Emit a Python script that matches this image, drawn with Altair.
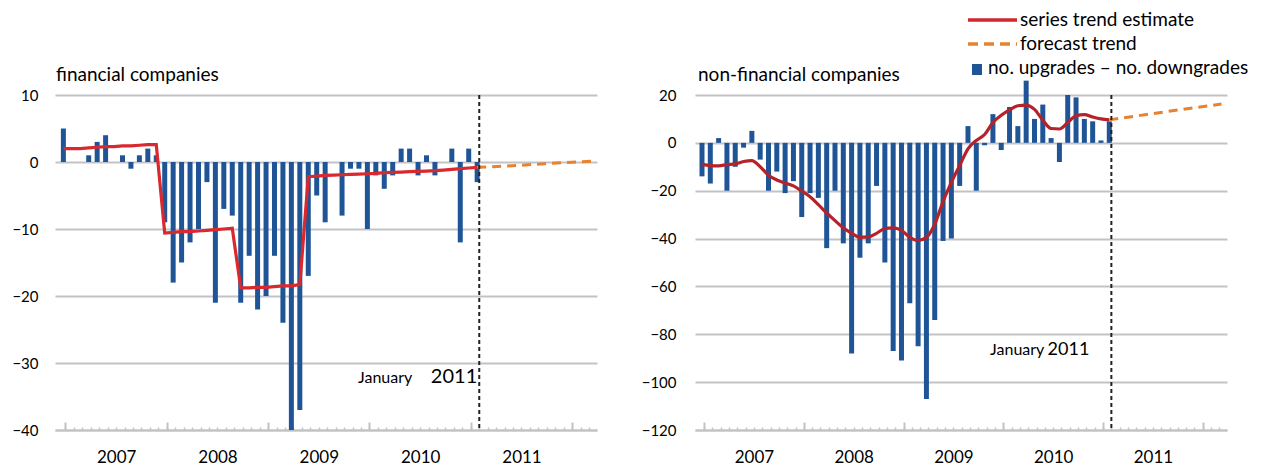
import json
import altair as alt
import pandas as pd

# ---------------- data (monthly, index 0 = first month shown) ----------------
years = ["2007", "2008", "2009", "2010", "2011"]

fin_bars = [5, 0, 0, 1, 3, 4, 0, 1, -1, 1, 2, 1, -9, -18, -15, -12, -10, -3, -21, -7,
            -8, -21, -14, -22, -20, -14, -24, -40, -37, -17, -5, -9, 0, -8, -1, -1, -10, -2, -4, -2,
            2, 2, -2, 1, -2, 0, 2, -12, 2, -3]
fin_trend = [2.0, 2.0, 2.0, 2.1, 2.2, 2.3, 2.3, 2.4, 2.4, 2.5, 2.6, 2.6,
             -10.6, -10.5, -10.4, -10.4, -10.3, -10.2, -10.1, -10.0, -9.9,
             -18.8, -18.8, -18.7, -18.7, -18.6, -18.5, -18.5, -18.3,
             -2.2, -2.1, -2.0, -1.95, -1.9, -1.85, -1.8, -1.75, -1.7, -1.6, -1.55,
             -1.5, -1.45, -1.4, -1.35, -1.3, -1.2, -1.1, -1.0, -0.9, -0.8]
fin_fc_m = [49, 54, 57, 59, 62.5]
fin_fc_v = [-0.8, -0.5, -0.25, -0.1, 0.1]

nf_bars = [-14, -17, 2, -20, -10, -2, 5, -7, -20, -12, -21, -16, -31, -21, -23, -44, -20, -42, -88, -48,
           -42, -18, -50, -87, -91, -67, -85, -107, -74, -41, -40, -18, 7, -20, -1, 12, -3, 15, 7, 26,
           10, 16, 2, -8, 20, 19, 10, 9, 1, 9]
nf_trend = [-9.0, -9.5, -9.6, -9.1, -8.8, -7.8, -7.4, -10.0, -13.5, -15.5, -16.8, -18.0,
            -20.2, -22.5, -25.8, -29.3, -32.5, -35.5, -37.8, -39.5, -39.3, -37.8, -35.8, -35.5,
            -36.6, -39.5, -40.8, -39.5, -34.0, -24.5, -16.5, -9.5, -2.5, 1.0, 3.5, 8.5, 11.5,
            13.8, 15.5, 15.8, 14.0, 9.5, 6.0, 5.8, 8.5, 11.3, 11.8, 10.8, 10.0, 9.6]
nf_fc_m = [49, 52, 57, 62.5]
nf_fc_v = [9.6, 11.1, 13.6, 16.2]

fin_yticks = [10, 0, -10, -20, -30, -40]
nf_yticks = [20, 0, -20, -40, -60, -80, -100, -120]

jan2011 = 49.25
year_label_pos = [6.25, 18.25, 30.25, 42.25, 54.25]
major_ticks = [0.25, 12.25, 24.25, 36.25, 48.25, 60.25]
minor_ticks = [k + 0.25 for k in range(0, 63)]

legend_labels = ["series trend estimate", "forecast trend", "no. upgrades \u2013 no. downgrades"]
annot = ["January", "2011"]

# ---------------- style ----------------
FONT = "Lato"
BAR = "#1f5597"
GRID = "#c3c3c7"
ORANGE = "#e8822e"
H = 335

label_expr = json.dumps(years) + "[round((datum.value - 6.25) / 12)]"


def panel(bars, trend, fc_m, fc_v, xdom, ydom, yticks, ypad, yext, red,
          title, title_x, ann_y, ann_dx2, ann_fs2, interp):
    df = pd.DataFrame({"m": list(range(len(bars))), "v": bars, "t": trend})
    fc = pd.DataFrame({"m": fc_m, "v": fc_v})
    xs = alt.Scale(domain=xdom, nice=False, zero=False)
    ys = alt.Scale(domain=ydom, nice=False)

    x_label_axis = alt.Axis(values=year_label_pos, labelExpr=label_expr, ticks=False, grid=False,
                            domainColor=GRID, domainWidth=2, labelFontSize=17, labelPadding=19,
                            labelFont=FONT, labelColor="#000", title=None, labelFlush=False)
    y_axis = alt.Axis(values=yticks, grid=True, gridColor=GRID, gridWidth=2, domain=False,
                      ticks=False, labelPadding=ypad, labelFontSize=15, labelFont=FONT,
                      labelColor="#000", title=None, minExtent=yext, maxExtent=yext)

    bars_l = alt.Chart(df).mark_bar(size=5, color=BAR).encode(
        x=alt.X("m:Q", scale=xs, axis=x_label_axis),
        y=alt.Y("v:Q", scale=ys, axis=y_axis),
    )
    trend_l = alt.Chart(df).mark_line(color=red, strokeWidth=3.2, interpolate=interp).encode(
        x=alt.X("m:Q", scale=xs,
                axis=alt.Axis(orient="top", offset=-H, values=minor_ticks, tickSize=3,
                              tickColor=GRID, tickWidth=1.5, labels=False, domain=False,
                              grid=False, title=None)),
        y=alt.Y("t:Q", scale=ys, axis=y_axis),
    )
    fc_l = alt.Chart(fc).mark_line(color=ORANGE, strokeWidth=3, strokeDash=[9, 6]).encode(
        x=alt.X("m:Q", scale=xs,
                axis=alt.Axis(orient="top", offset=-H, values=major_ticks, tickSize=8,
                              tickColor=GRID, tickWidth=2, labels=False, domain=False,
                              grid=False, title=None)),
        y=alt.Y("v:Q", scale=ys, axis=y_axis),
    )
    vline = alt.Chart(pd.DataFrame({"m": [jan2011]})).mark_rule(
        color="#222", strokeWidth=2, strokeDash=[4, 3]).encode(
        x=alt.X("m:Q", scale=xs, axis=None))
    ann_df = pd.DataFrame({"m": [jan2011], "y": [ann_y], "t1": [annot[0]], "t2": [annot[1]]})
    ann1 = alt.Chart(ann_df).mark_text(align="right", baseline="alphabetic", dx=-67,
                                        fontSize=16, font=FONT, color="#000").encode(
        x=alt.X("m:Q", scale=xs, axis=None), y=alt.Y("y:Q", scale=ys, axis=y_axis), text="t1:N")
    ann2 = alt.Chart(ann_df).mark_text(align="right", baseline="alphabetic", dx=ann_dx2,
                                        fontSize=ann_fs2, font=FONT, color="#000").encode(
        x=alt.X("m:Q", scale=xs, axis=None), y=alt.Y("y:Q", scale=ys, axis=y_axis), text="t2:N")
    title_l = alt.Chart(pd.DataFrame({"t": [title]})).mark_text(
        align="left", baseline="alphabetic", fontSize=19, font=FONT, color="#000").encode(
        x=alt.value(title_x), y=alt.value(-14), text="t:N")

    return [bars_l, trend_l, fc_l, vline, ann1, ann2, title_l]


# left panel
left_layers = panel(fin_bars, fin_trend, fin_fc_m, fin_fc_v, [-0.4, 62.6], [-40, 10],
                    fin_yticks, 17, 47, "#d9282e", "financial companies", 1, -33.0, -2, 20,
                    "linear")
left = alt.layer(*left_layers).resolve_axis(x="independent").properties(width=542, height=H)

# right panel
right_layers = panel(nf_bars, nf_trend, nf_fc_m, nf_fc_v, [-0.24, 62.56], [-120, 20],
                     nf_yticks, 19, 45, "#b5222a", "non-financial companies", 3, -88.6, -22, 18,
                     "monotone")

# legend (top right), drawn as text with sample marks
leg_txt = []
for lab, lx, ly in zip(legend_labels, [325, 325, 293], [-69, -45, -21]):
    leg_txt.append(alt.Chart(pd.DataFrame({"t": [lab]})).mark_text(
        align="left", baseline="alphabetic", fontSize=19, font=FONT, color="#000").encode(
        x=alt.value(lx), y=alt.value(ly), text="t:N"))
leg_red = alt.Chart(pd.DataFrame({"t": [legend_labels[0]]})).mark_rule(
    color="#d0282e", strokeWidth=3.5).encode(x=alt.value(273), x2=alt.value(322), y=alt.value(-75))
leg_or = alt.Chart(pd.DataFrame({"t": [legend_labels[1]]})).mark_rule(
    color=ORANGE, strokeWidth=3.5, strokeDash=[10, 6]).encode(
    x=alt.value(273), x2=alt.value(322), y=alt.value(-51))
leg_sq = alt.Chart(pd.DataFrame({"t": [legend_labels[2]]})).mark_rect(color=BAR).encode(
    x=alt.value(277), x2=alt.value(287), y=alt.value(-31), y2=alt.value(-20))

right = alt.layer(*right_layers, leg_red, leg_or, leg_sq, *leg_txt).resolve_axis(
    x="independent").properties(width=532, height=H)

chart = alt.hconcat(left, right, spacing=98, bounds="flush").properties(
    padding={"left": 0, "top": 3, "right": 0, "bottom": 0}).configure_view(stroke=None)

chart.save("out.html", embed_options={"renderer": "svg", "actions": False})
